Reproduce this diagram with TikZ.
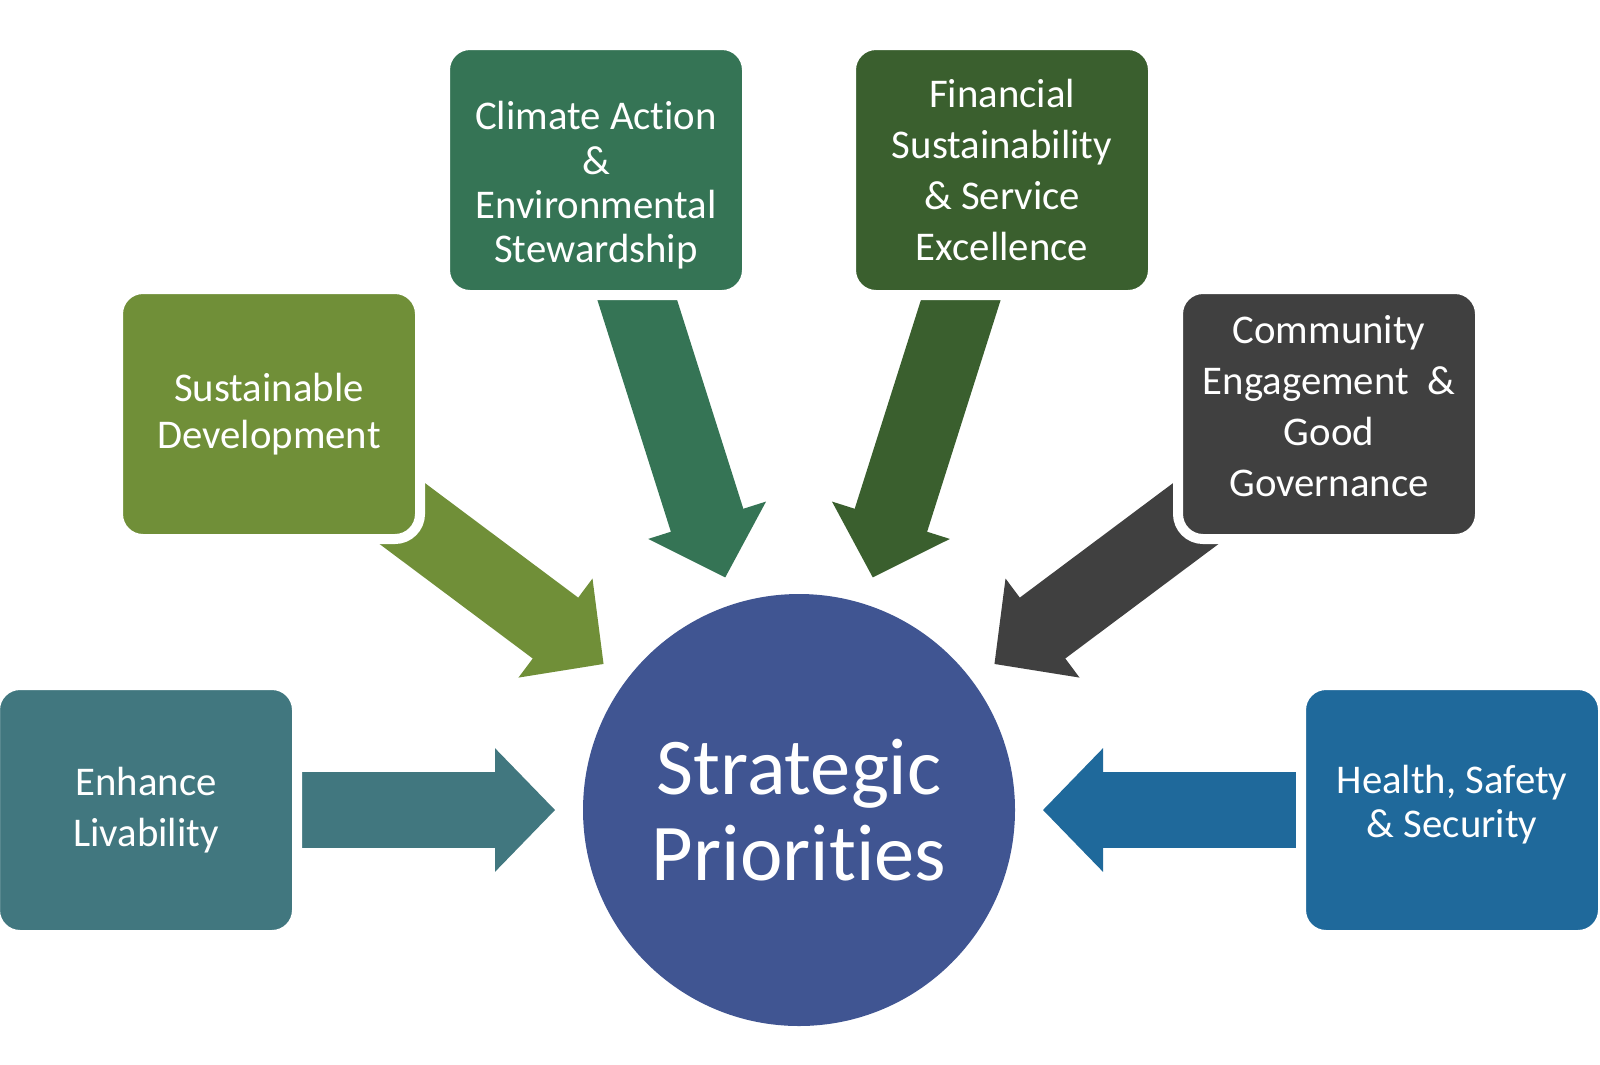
\documentclass[tikz,border=0pt]{standalone}
\usepackage{fontspec}
\setmainfont{Carlito}[Ligatures=NoCommon]
\usetikzlibrary{arrows.meta,backgrounds}
\definecolor{livab}{RGB}{65,119,127}
\definecolor{devel}{RGB}{112,143,56}
\definecolor{climate}{RGB}{53,116,85}
\definecolor{finance}{RGB}{58,95,46}
\definecolor{commun}{RGB}{64,64,64}
\definecolor{safety}{RGB}{31,105,155}
\definecolor{hubblue}{RGB}{64,85,146}
\newcommand{\toppad}[1]{\rule{0pt}{#1}}
\newcommand{\botpad}[1]{\rule[-#1]{0pt}{#1}}

\begin{document}
\begin{tikzpicture}
	\tikzset{
		prio/.style={rectangle,rounded corners=0.25cm,fill=#1,draw=white,line width=0.10cm,
			minimum width=3.02cm,minimum height=2.50cm,inner sep=0pt,text=white,align=center,
			font=\fontsize{11.6}{14.5}\selectfont},
		flow/.style={draw=#1,line width=0.76cm,shorten >=0.28cm,
			-{Triangle[length=0.60cm,width=1.23cm,line width=1pt]}}
	}
	\useasboundingbox (0,0) rectangle (16,10.64);
	
	\node[circle,fill=hubblue,minimum size=4.32cm,inner sep=0pt,outer sep=0pt,text=white,
		align=center,font=\fontsize{22.9}{24.4}\selectfont] (hub) at (7.99,2.54) {Strategic\\Priorities};
	
	\node[prio=livab] (liv) at (1.46,2.54) {Enhance\\Livability};
	\node[prio=devel,font=\fontsize{11.6}{13.3}\selectfont] (dev) at (2.69,6.50) {Sustainable\\Development};
	\node[prio=climate,font=\fontsize{11.6}{12.6}\selectfont] (clim) at (5.96,8.94)
		{\toppad{0.59cm}Climate Action\\\&\\Environmental\\Stewardship};
	\node[prio=finance] (fin) at (10.02,8.94) {Financial\\Sustainability\\\& Service\\Excellence};
	\node[prio=commun] (com) at (13.29,6.50) {Community\\Engagement \ \&\\Good\\Governance\botpad{0.16cm}};
	\node[prio=safety,font=\fontsize{11.6}{12.6}\selectfont] (saf) at (14.52,2.54)
		{Health, Safety\\\& Security\botpad{0.18cm}};
	
	% block arrows run under the boxes
	\begin{scope}[on background layer]
		\draw[flow=livab] (liv.center) -- (hub);
		\draw[flow=devel] (dev.center) -- (hub);
		\draw[flow=climate] (clim.center) -- (hub);
		\draw[flow=finance] (fin.center) -- (hub);
		\draw[flow=commun] (com.center) -- (hub);
		\draw[flow=safety] (saf.center) -- (hub);
	\end{scope}
\end{tikzpicture}
\end{document}
